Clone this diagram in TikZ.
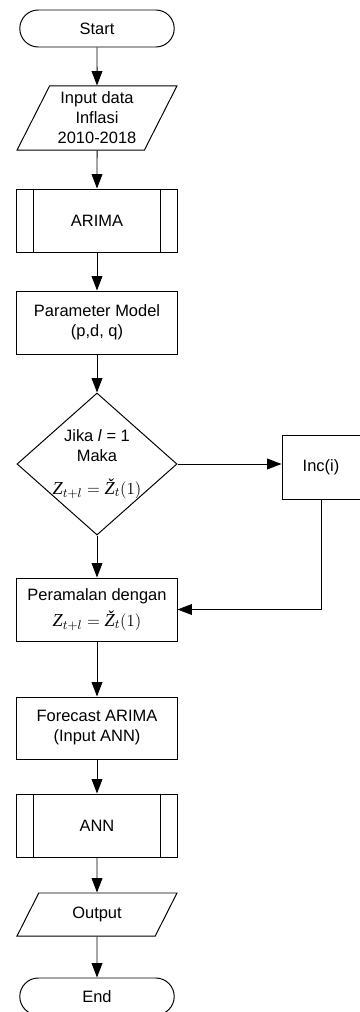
\documentclass[tikz,border=0pt]{standalone}
\usepackage{amsmath}
\usepackage{fontspec}
\setmainfont{Liberation Sans}
\newfontfamily\zserif{Liberation Serif}
\usetikzlibrary{shapes.geometric,shapes.misc,arrows.meta}
\newcommand{\zit}[1]{\text{\zserif\itshape #1}}
\newcommand{\ramalform}{{\fontsize{13pt}{15pt}\selectfont$\zit{Z}_{t+l}=\zit{Ž}_t(1)$}}

\begin{document}
\begin{tikzpicture}[x=0.025cm,y=-0.025cm,
	line width=0.7pt,
	font=\fontsize{11.7pt}{14.2pt}\selectfont,
	every node/.style={draw,align=center,inner sep=2pt},
	arr/.style={-{Triangle[length=0.36cm,width=0.27cm]}},
	terminal/.style={rounded rectangle,minimum width=4cm,minimum height=0.925cm},
	iobox/.style={trapezium,trapezium left angle=63.4,trapezium right angle=116.6,
		trapezium stretches=true,minimum width=4cm},
	procbox/.style={rectangle,minimum width=4cm,minimum height=1.575cm},
	decbox/.style={diamond,inner sep=-12pt,minimum width=4cm,minimum height=3.55cm}]
	\useasboundingbox (0,0) rectangle (360,1012);
	\node[terminal] (start) at (97,28.5) {Start};
	\node[iobox,minimum height=1.6cm] (input) at (97,118) {Input data\\Inflasi\\2010-2018};
	\node[procbox] (arima) at (97,220.5) {ARIMA};
	\node[procbox] (param) at (97,322.5) {Parameter Model\\(p,d, q)};
	\node[decbox] (cek) at (97,464) {Jika \textit{l} = 1\\Maka\\[9pt]\ramalform};
	\node[procbox,minimum width=1.95cm,minimum height=1.6cm] (inc) at (321,467) {Inc(i)};
	\node[procbox] (ramal) at (97,609.5) {Peramalan dengan\\[4pt]\ramalform};
	\node[procbox,minimum height=1.55cm] (fcast) at (97,728) {Forecast ARIMA\\(Input ANN)};
	\node[procbox] (ann) at (97,825.5) {ANN};
	\node[iobox,minimum height=1.075cm] (output) at (97,914.5) {Output};
	\node[terminal] (end) at (97,996.5) {End};
	% double sides of the predefined processes
	\draw ([xshift=0.425cm]arima.north west) -- ([xshift=0.425cm]arima.south west);
	\draw ([xshift=-0.425cm]arima.north east) -- ([xshift=-0.425cm]arima.south east);
	\draw ([xshift=0.425cm]ann.north west) -- ([xshift=0.425cm]ann.south west);
	\draw ([xshift=-0.425cm]ann.north east) -- ([xshift=-0.425cm]ann.south east);
	% flow
	\draw[arr] (start) -- (input);
	\draw[arr] (input) -- (arima);
	\draw[arr] (arima) -- (param);
	\draw[arr] (param) -- (cek);
	\draw[arr] (cek.east) -- (cek.east -| inc.west);
	\draw[arr] (cek) -- (ramal);
	\draw[arr] (inc.south) |- (ramal.east);
	\draw[arr] (ramal) -- (fcast);
	\draw[arr] (fcast) -- (ann);
	\draw[arr] (ann) -- (output);
	\draw[arr] (output) -- (end);
\end{tikzpicture}
\end{document}
